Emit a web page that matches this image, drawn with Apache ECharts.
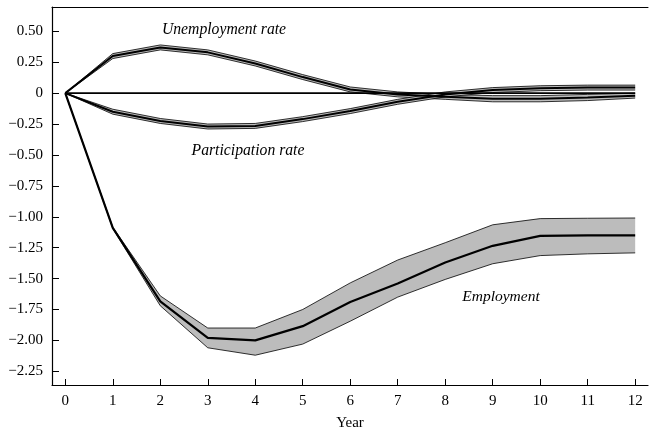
<!DOCTYPE html>
<html>
<head>
<meta charset="utf-8">
<script src="https://cdn.jsdelivr.net/npm/echarts@6/dist/echarts.min.js"></script>
<style>html,body{margin:0;padding:0;background:#fff}#c{width:649px;height:436px}</style>
</head>
<body>
<div id="c"></div>
<script>
const years = [0,1,2,3,4,5,6,7,8,9,10,11,12];
const xTicks = [0,1,2,3,4,5,6,7,8,9,10,11,12];
const yTicks = [-2.25,-2,-1.75,-1.5,-1.25,-1,-0.75,-0.5,-0.25,0,0.25,0.5];

const zeroLine = [0,0,0,0,0,0,0,0,0,0,0,0,0];

const unempMid = [0,0.30,0.37,0.33,0.24,0.13,0.03,-0.01,-0.03,-0.045,-0.045,-0.035,-0.02];
const unempUp  = [0,0.32,0.39,0.35,0.26,0.15,0.05,0.01,-0.01,-0.02,-0.02,-0.01,0.00];
const unempLo  = [0,0.28,0.35,0.31,0.22,0.11,0.01,-0.03,-0.05,-0.07,-0.07,-0.06,-0.04];

const partMid = [0,-0.15,-0.225,-0.27,-0.265,-0.21,-0.145,-0.07,-0.01,0.025,0.04,0.045,0.045];
const partUp  = [0,-0.13,-0.205,-0.25,-0.245,-0.19,-0.125,-0.05,0.01,0.045,0.06,0.065,0.065];
const partLo  = [0,-0.17,-0.245,-0.29,-0.285,-0.23,-0.165,-0.09,-0.03,0.005,0.02,0.025,0.025];

const empMid = [0,-1.09,-1.685,-1.98,-2.00,-1.885,-1.69,-1.54,-1.37,-1.235,-1.155,-1.15,-1.15];
const empUp  = [0,-1.085,-1.64,-1.90,-1.90,-1.75,-1.535,-1.35,-1.21,-1.065,-1.015,-1.012,-1.01];
const empLo  = [0,-1.095,-1.72,-2.06,-2.12,-2.03,-1.845,-1.65,-1.507,-1.38,-1.314,-1.30,-1.292];

const FONT = 'Liberation Serif';
function pairs(arr){ return years.map((x,i)=>[x, arr[i]]); }
function band(name, up, lo){
  return {
    type:'custom', name:name, data:[[0,0]], encode:{x:0, y:1}, z:2, silent:true, clip:false,
    renderItem:function(params, api){
      const upPts = years.map((x,i)=>api.coord([x, up[i]]));
      const loPts = years.map((x,i)=>api.coord([x, lo[i]]));
      const poly = upPts.concat(loPts.slice().reverse());
      return {type:'group', children:[
        {type:'polygon', shape:{points:poly}, style:{fill:'#bcbcbc', stroke:null}},
        {type:'polyline', shape:{points:upPts}, style:{fill:null, stroke:'#000', lineWidth:0.8}},
        {type:'polyline', shape:{points:loPts}, style:{fill:null, stroke:'#000', lineWidth:0.8}}
      ]};
    }
  };
}
function mid(name, arr, w){
  return {type:'line', name:name, data:pairs(arr), symbol:'none', lineStyle:{color:'#000', width:w}, z:4, silent:true};
}

const chart = echarts.init(document.getElementById('c'), null, {renderer:'canvas'});
chart.setOption({
  animation:false,
  backgroundColor:'#fff',
  grid:{left:52, top:7, right:1, bottom:43},
  xAxis:[{
    type:'value', min:-0.28, max:12.27, position:'bottom',
    name:'Year', nameLocation:'middle', nameGap:31,
    nameTextStyle:{fontFamily:FONT, fontSize:15, color:'#000'},
    axisLine:{show:true, onZero:false, lineStyle:{color:'#000', width:1.2}},
    axisTick:{show:true, inside:true, length:6, customValues:xTicks, lineStyle:{color:'#000', width:1}},
    axisLabel:{customValues:xTicks, fontFamily:FONT, fontSize:15, color:'#000', margin:9},
    splitLine:{show:false}
  },{
    type:'value', min:-0.28, max:12.27, position:'top',
    axisLine:{show:true, onZero:false, lineStyle:{color:'#000', width:1}},
    axisTick:{show:false}, axisLabel:{show:false}, splitLine:{show:false}
  }],
  yAxis:{
    type:'value', min:-2.361, max:0.697,
    axisLine:{show:true, onZero:false, lineStyle:{color:'#000', width:1.2}},
    axisTick:{show:true, inside:true, length:7, customValues:yTicks, lineStyle:{color:'#000', width:1}},
    axisLabel:{customValues:yTicks, fontFamily:FONT, fontSize:15, color:'#000', margin:9,
      formatter:function(v){ return v===0 ? '0' : v.toFixed(2).replace('-', '\u2212'); }},
    splitLine:{show:false}
  },
  series:[
    band('emp', empUp, empLo),
    band('unemp', unempUp, unempLo),
    band('part', partUp, partLo),
    mid('Zero', zeroLine, 1.6), mid('Employment', empMid, 2.2), mid('Unemployment rate', unempMid, 2), mid('Participation rate', partMid, 2)
  ],
  graphic:[
    {type:'text', z:100, x:224, y:30, style:{text:'Unemployment rate', font:'italic 15.7px "Liberation Serif"', fill:'#000', textAlign:'center', textVerticalAlign:'middle'}},
    {type:'text', z:100, x:248, y:151, style:{text:'Participation rate', font:'italic 15.7px "Liberation Serif"', fill:'#000', textAlign:'center', textVerticalAlign:'middle'}},
    {type:'text', z:100, x:501, y:297, style:{text:'Employment', font:'italic 15.5px "Liberation Serif"', fill:'#000', textAlign:'center', textVerticalAlign:'middle'}}
  ]
});
</script>
</body>
</html>
